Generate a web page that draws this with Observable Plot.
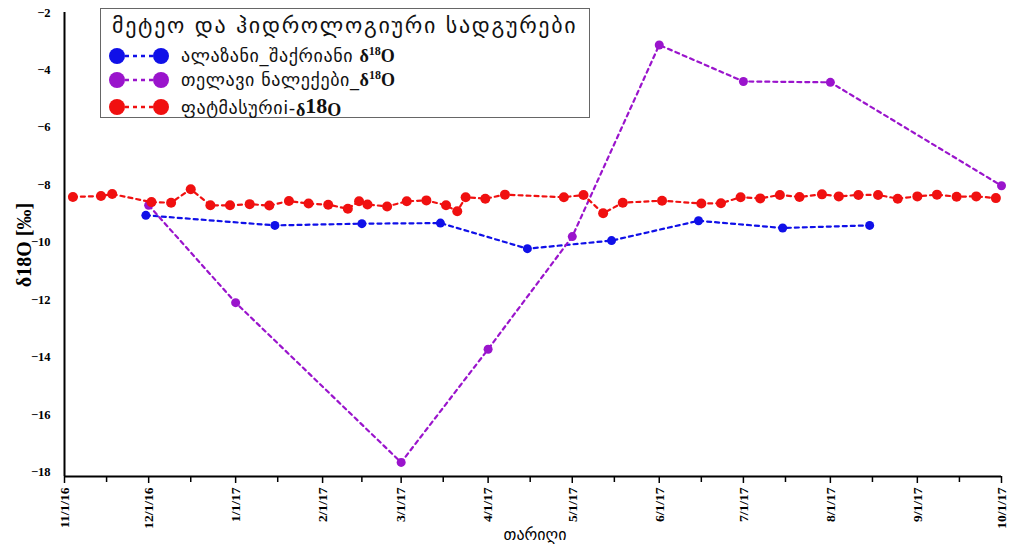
<!DOCTYPE html>
<html><head><meta charset="utf-8">
<script src="https://cdn.jsdelivr.net/npm/d3@7"></script>
<script src="https://cdn.jsdelivr.net/npm/@observablehq/plot@0.6"></script>
<style>
body{margin:0;background:#fff;}
#wrap{position:relative;width:1010px;height:546px;}
#legend{position:absolute;left:100px;top:8px;width:490px;height:110px;border:1.5px solid #666;background:#fff;box-sizing:border-box;font-family:"DejaVu Sans",sans-serif;color:#111;}
#legend .ttl{position:absolute;left:11px;top:4px;font-size:22px;letter-spacing:1.7px;white-space:nowrap;}
#legend .row{position:absolute;left:6px;display:flex;align-items:center;font-size:18px;letter-spacing:0.6px;white-space:nowrap;}
#legend .row svg{margin-right:10px;}
.sup{font-family:"Liberation Serif",serif;font-weight:bold;letter-spacing:0;}
#ylab{position:absolute;left:24px;top:245px;transform:translate(-50%,-50%) rotate(-90deg);font-family:"Liberation Serif",serif;font-weight:bold;font-size:20px;white-space:nowrap;}
#xlab{position:absolute;left:535px;top:525px;transform:translateX(-50%);font-family:"DejaVu Sans",sans-serif;font-size:16px;white-space:nowrap;}
</style>
</head><body>
<div id="wrap"><div id="chart"></div>
<div id="ylab">δ18O [‰]</div>
<div id="xlab">თარიღი</div>
<div id="legend"></div>
</div>
<script>
// ---- data ----
const seriesNames = ["ალაზანი_შაქრიანი\u00a0", "თელავი ნალექები_", "ფატმასურიi-"];
const seriesColors = ["#1010e8", "#9a14cc", "#f01010"];
const legendTitle = "მეტეო და ჰიდროლოგიური სადგურები";

const alazaniDates = ["2016-11-30","2017-01-15","2017-02-15","2017-03-15","2017-04-15","2017-05-15","2017-06-15","2017-07-15","2017-08-15"];
const alazaniValues = [-9.06,-9.41,-9.35,-9.33,-10.22,-9.94,-9.25,-9.50,-9.41];

const telaviDates = ["2016-12-01","2017-01-01","2017-03-01","2017-04-01","2017-05-01","2017-06-01","2017-07-01","2017-08-01","2017-10-01"];
const telaviValues = [-8.71,-12.10,-17.66,-13.72,-9.80,-3.13,-4.40,-4.43,-8.03];

const fatmasuriDates = ["2016-11-04","2016-11-14","2016-11-18","2016-12-02","2016-12-09","2016-12-16","2016-12-23","2016-12-30",
 "2017-01-06","2017-01-13","2017-01-20","2017-01-27","2017-02-03","2017-02-10","2017-02-14","2017-02-17","2017-02-24",
 "2017-03-03","2017-03-10","2017-03-17","2017-03-21","2017-03-24","2017-03-31","2017-04-07","2017-04-28","2017-05-05",
 "2017-05-12","2017-05-19","2017-06-02","2017-06-16","2017-06-23","2017-06-30","2017-07-07","2017-07-14","2017-07-21",
 "2017-07-29","2017-08-04","2017-08-11","2017-08-18","2017-08-25","2017-09-01","2017-09-08","2017-09-15","2017-09-22","2017-09-29"];
const fatmasuriValues = [-8.42,-8.39,-8.32,-8.60,-8.62,-8.15,-8.71,-8.71,
 -8.67,-8.72,-8.56,-8.65,-8.69,-8.83,-8.57,-8.68,-8.75,
 -8.57,-8.54,-8.71,-8.92,-8.43,-8.48,-8.34,-8.43,-8.35,
 -8.99,-8.62,-8.55,-8.65,-8.64,-8.43,-8.47,-8.35,-8.42,
 -8.33,-8.40,-8.35,-8.35,-8.48,-8.40,-8.34,-8.41,-8.40,-8.46];

const xTickDates = ["2016-11-01","2016-12-01","2017-01-01","2017-02-01","2017-03-01","2017-04-01","2017-05-01","2017-06-01","2017-07-01","2017-08-01","2017-09-01","2017-10-01"];
const xMinorDates = ["2016-11-16","2016-12-16","2017-01-16","2017-02-15","2017-03-16","2017-04-16","2017-05-16","2017-06-16","2017-07-16","2017-08-16","2017-09-16"];
const yTicks = [-2,-4,-6,-8,-10,-12,-14,-16,-18];
const yDomain = [-18.15, -2];

// ---- build ----
const parse = d3.utcParse("%Y-%m-%d");
const mk = (dates, vals) => dates.map((d,i)=>({date: parse(d), value: vals[i]}));
const series = [mk(alazaniDates, alazaniValues), mk(telaviDates, telaviValues), mk(fatmasuriDates, fatmasuriValues)];
const xTicks = xTickDates.map(parse);
const xMinor = xMinorDates.map(parse);
const xDomain = [xTicks[0], xTicks[xTicks.length-1]];
const fmt = d3.utcFormat("%-m/%-d/%y");

const marks = [];
series.forEach((s,i)=>{
  marks.push(Plot.line(s, {x:"date", y:"value", stroke: seriesColors[i], strokeWidth: 2.2, strokeDasharray: "4,4"}));
  marks.push(Plot.dot(s, {x:"date", y:"value", fill: seriesColors[i], r: i===2 ? 5 : 4.5}));
});

const chart = Plot.plot({
  width: 1010, height: 546,
  marginLeft: 64, marginRight: 9, marginTop: 12, marginBottom: 70,
  style: {fontFamily: "Liberation Serif, serif", background: "#fff"},
  x: {type: "utc", domain: xDomain},
  y: {domain: yDomain},
  marks: [
    Plot.axisY({ticks: yTicks, tickSize: 0, tickPadding: 14, label: null, fontSize: 12.5, fontWeight: "bold"}),
    Plot.axisX({ticks: xTicks, tickFormat: fmt, tickRotate: -90, tickSize: 7, tickPadding: 4, label: null, fontSize: 13.5, fontWeight: "bold", strokeWidth: 1.5}),
    Plot.axisX({ticks: xMinor, tickFormat: () => "", tickSize: 6, label: null, strokeWidth: 1.5}),
    Plot.ruleY([yDomain[0]], {stroke: "#000", strokeWidth: 2}),
    Plot.ruleX([xDomain[0]], {y1: yDomain[0], y2: yDomain[1], stroke: "#000", strokeWidth: 2}),
    ...marks
  ]
});
document.getElementById("chart").appendChild(chart);

// legend
const lg = document.getElementById("legend");
const t = document.createElement("div"); t.className = "ttl"; t.textContent = legendTitle; lg.appendChild(t);
const rowTops = [35, 59, 84];
seriesNames.forEach((n,i)=>{
  const r = document.createElement("div"); r.className="row"; r.style.top = rowTops[i]+"px";
  const c = seriesColors[i];
  r.innerHTML = `<svg width="64" height="20"><line x1="10" y1="10" x2="54" y2="10" stroke="${c}" stroke-width="2.5" stroke-dasharray="4,4"/><circle cx="10" cy="10" r="8" fill="${c}"/><circle cx="54" cy="10" r="8" fill="${c}"/></svg>`;
  const sp = document.createElement("span");
  sp.textContent = n;
  const d = document.createElement("span"); d.className="sup";
  d.innerHTML = i===2 ? 'δ<span style="font-size:22px;vertical-align:3px">18</span>O' : 'δ<sup style="font-size:12px">18</sup>O';
  r.appendChild(sp); r.appendChild(d);
  lg.appendChild(r);
});
</script>
</body></html>
